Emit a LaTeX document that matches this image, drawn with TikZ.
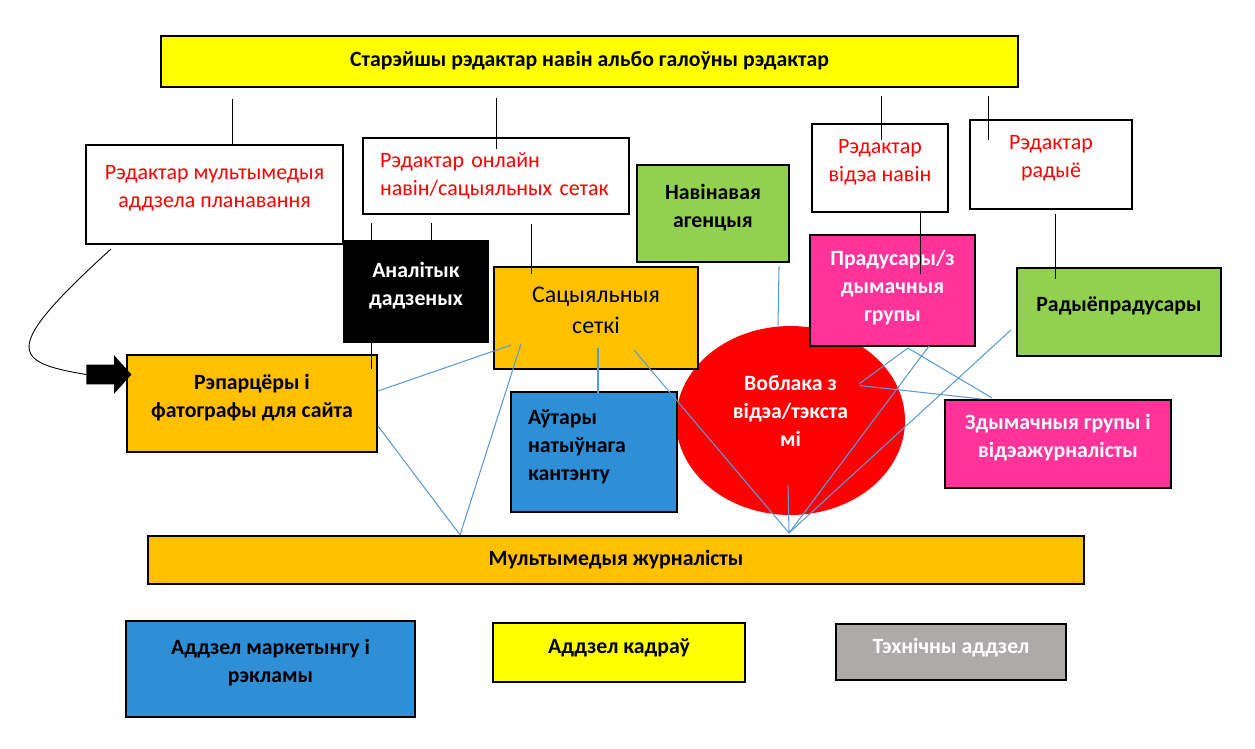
\documentclass[tikz,border=0pt]{standalone}
\usepackage{fontspec}
\setmainfont{Carlito}
\usepackage{tikz}
\usetikzlibrary{arrows.meta, positioning, shapes.geometric, shapes.arrows, calc}
\definecolor{boxyellow}{RGB}{255, 255, 0}
\definecolor{boxgold}{RGB}{255, 192, 0}
\definecolor{boxgreen}{RGB}{146, 208, 80}
\definecolor{boxpink}{RGB}{255, 51, 153}
\definecolor{boxblue}{RGB}{46, 142, 214}
\definecolor{boxgrey}{RGB}{174, 170, 170}
\definecolor{cloudred}{RGB}{255, 0, 0}
\definecolor{edred}{RGB}{255, 0, 0}
\definecolor{feedblue}{RGB}{91, 155, 213}

\begin{document}
\begin{tikzpicture}[
		x=0.02cm, y=-0.02cm,
		box/.style={rectangle, draw, line width=1.2pt, align=center, inner sep=2pt, text depth=9pt, font=\fontsize{12.4}{15.9}\selectfont\bfseries},
		editor/.style={box, fill=white, text=edred, font=\fontsize{12.5}{16}\selectfont},
		blob/.style={ellipse, fill=cloudred, text=white, align=center, text depth=11pt, font=\fontsize{12.4}{15.9}\selectfont\bfseries},
		link/.style={line width=0.5pt},
		feed/.style={draw=feedblue, line width=0.6pt}
	]
	% pixel grid, y runs downwards
	\useasboundingbox (0,0) rectangle (1255,748);

	% Management
	\node[box, fill=boxyellow, text depth=3pt, minimum width=17.14cm, minimum height=1.02cm] (chief) at (589.5,61.5) {Старэйшы рэдактар навін альбо галоўны рэдактар};

	% Editors
	\node[editor, minimum width=5.14cm, minimum height=1.98cm] (planEd) at (214.5,194.5) {Рэдактар мультымедыя\\аддзела планавання};
	\node[editor, align=left, text depth={}, text width=4.64cm, inner xsep=0.34cm, minimum height=1.52cm] (onlineEd) at (496,176) {Рэдактар онлайн\\навін/сацыяльных сетак};
	\node[editor, minimum width=2.72cm, minimum height=1.76cm] (videoEd) at (880,168) {Рэдактар\\відэа навін};
	\node[editor, minimum width=3.24cm, minimum height=1.78cm] (radioEd) at (1051,164.5) {Рэдактар\\радыё};

	% Newsroom desks
	\node[blob, minimum width=4.58cm, minimum height=3.78cm] (cloud) at (790.5,420.5) {Воблака з\\відэа/тэкста\\мі};
	\node[box, fill=boxgreen, minimum width=3.04cm, minimum height=1.94cm] (agency) at (713,213.5) {Навінавая\\агенцыя};
	\node[box, fill=boxgold, font=\fontsize{13.6}{17.6}\selectfont, minimum width=4.08cm, minimum height=2.04cm] (social) at (596,318) {Сацыяльныя\\сеткі};
	\node[box, fill=boxpink, text=white, text depth=5pt, minimum width=3.3cm, minimum height=2.22cm] (prod) at (892.5,290.5) {Прадусары/з\\дымачныя\\групы};
	\node[box, fill=boxgreen, minimum width=4.08cm, minimum height=1.76cm] (radioProd) at (1119,312) {Радыёпрадусары};
	\node[box, fill=boxpink, text=white, minimum width=4.52cm, minimum height=1.76cm] (crews) at (1058,444) {Здымачныя групы і\\відэажурналісты};
	\node[box, fill=boxgold, minimum width=5cm, minimum height=1.94cm] (rep) at (252,403.5) {Рэпарцёры і\\фатографы для сайта};
	\node[box, fill=boxblue, align=left, text depth={}, text height=3pt, text width=2.64cm, inner xsep=0.34cm, minimum height=2.4cm] (native) at (594,452) {Аўтары\\натыўнага\\кантэнту};
	\node[box, fill=boxgold, text depth=3pt, minimum width=18.72cm, minimum height=0.96cm] (mm) at (616,560) {Мультымедыя журналісты};

	% Departments
	\node[box, fill=boxblue, minimum width=5.78cm, minimum height=1.92cm] (mkt) at (270.5,669) {Аддзел маркетынгу і\\рэкламы};
	\node[box, fill=boxyellow, text depth=7pt, minimum width=5.04cm, minimum height=1.18cm] (hr) at (619,652.5) {Аддзел кадраў};
	\node[box, fill=boxgrey, text=white, text depth=7pt, minimum width=4.6cm, minimum height=1.12cm] (tech) at (951,652) {Тэхнічны аддзел};

	% Planning editor feeds the reporters
	\node[single arrow, fill=black, inner xsep=0pt, inner ysep=0.19cm, minimum height=0.9cm, minimum width=0.76cm, single arrow head extend=0.19cm, single arrow tip angle=96] (blk) at (104.5,374.5) {};
	\draw[link] ($(planEd.south west)+(26,4)$) .. controls (0,350) and (12,362) .. (blk.west);

	% Reporting lines
	\draw[link, shorten <=0.22cm] (chief.south -| 232,0) -- (planEd.north -| 232,0);
	\draw[link, shorten <=0.2cm, shorten >=-0.24cm] (chief.south -| 496,0) -- (onlineEd.north -| 496,0);
	\draw[link, shorten <=0.16cm, shorten >=-0.34cm] (chief.south -| 881,0) -- (videoEd.north -| 881,0);
	\draw[link, shorten <=0.16cm, shorten >=-0.42cm] (chief.south -| 988,0) -- (radioEd.north -| 988,0);
	\draw[link, shorten <=0.16cm, shorten >=-0.3cm] (onlineEd.south -| 371,0) -- (rep.north -| 371,0);
	\node[box, fill=black, text=white, minimum width=2.88cm, minimum height=2.02cm] (analyst) at (416,291.5) {Аналітык\\дадзеных};
	\draw[link, shorten <=0.16cm] (onlineEd.south -| 431,0) -- (analyst.north -| 431,0);
	\draw[link, shorten <=0.18cm, shorten >=-0.16cm] (onlineEd.south -| 531,0) -- (social.north -| 531,0);
	\draw[link, shorten >=-0.8cm] (videoEd.south -| 920,0) -- (prod.north -| 920,0);
	\draw[link, shorten <=0.08cm, shorten >=-0.24cm] (radioEd.south -| 1055,0) -- (radioProd.north -| 1055,0);

	% Content flow to the multimedia desk
	\coordinate (mmL) at ($(mm.north west)+(313,0)$);
	\coordinate (mmR) at ($(mm.north west)+(642,-2)$);
	\draw[feed] ($(social.south west)+(18,-25)$) -- ($(rep.east)+(0,-12.5)$);
	\draw[feed] ($(rep.east)+(0,22.5)$) -- (mmL);
	\draw[feed] ($(social.south west)+(28,-26)$) -- (mmL);
	\draw[feed] ($(social.south)+(2,-22)$) -- ($(native.north)+(4,3)$);
	\draw[feed] ($(social.south)+(38,-20)$) -- (mmR);
	\draw[feed] ($(agency.south east)+(-11,3)$) -- ($(cloud.north)+(-12.5,0)$);
	\draw[feed] ($(cloud.south)+(-2.5,-30)$) -- (mmR);
	\draw[feed] ($(prod.south)+(15.5,1)$) -- ($(cloud.center)+(69,-37)$);
	\draw[feed] ($(prod.south)+(15.5,1)$) -- ($(crews.north west)+(48,-1)$);
	\draw[feed] ($(cloud.center)+(69,-35)$) -- ($(crews.north west)+(37,0)$);
	\draw[feed] ($(prod.south)+(36.5,-1)$) -- (mmR);
	\draw[feed] ($(radioProd.west)+(-5,18)$) -- (mmR);
\end{tikzpicture}
\end{document}
